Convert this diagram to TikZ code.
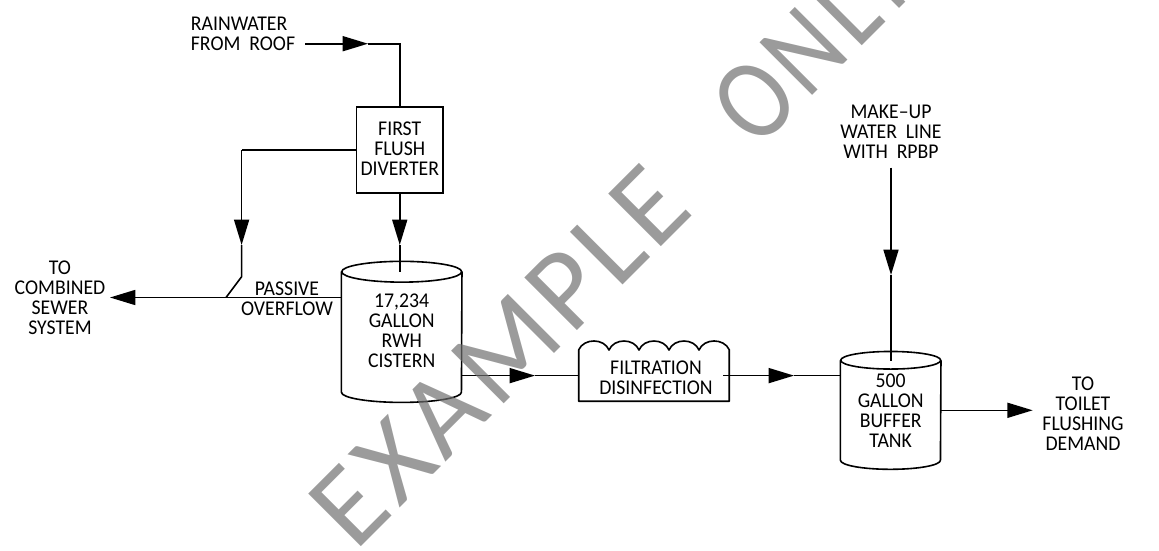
\documentclass[tikz,border=0pt]{standalone}
\usepackage{fontspec}
\setmainfont[FakeStretch=0.94]{Carlito}
\newfontfamily\wmfont[LetterSpace=4.8]{Carlito}
\newfontfamily\wmnarrow[LetterSpace=4.8,FakeStretch=0.86]{Carlito}
\usetikzlibrary{arrows.meta}
\newcommand\lines[3]{\raisebox{#2}[\height][\depth]{\hspace*{#1}\begin{tabular}{@{}c@{}}#3\end{tabular}\hspace*{-#1}}}
\tikzset{
  pipe/.style={line width=1.2pt,draw=black},
  flow/.style={-{Triangle[length=19pt,width=11.25pt]}},
  lbl/.style={inner sep=0pt,font=\fontsize{15.75pt}{15pt}\selectfont,text=black},
  boxn/.style={lbl,draw=black,line width=1.2pt},
  shapen/.style={lbl},
  wmark/.style={inner sep=0pt,anchor=base west,rotate=45,text=black!57,text opacity=.686,font=\fontsize{87pt}{87pt}\wmfont}
}
\begin{document}
\begin{tikzpicture}[x=0.75pt,y=-0.75pt]
\clip (0,0) rectangle (1159,550);
% nodes
\node[boxn,minimum width=64.9pt,minimum height=64.5pt] (diverter) at (399.75,150) {\lines{0pt}{-1.1pt}{FIRST\\FLUSH\\DIVERTER}};
\node[shapen,minimum width=90pt,minimum height=90pt] (cistern) at (401.7,332) {\lines{0pt}{-0.75pt}{17,234\\GALLON\\RWH\\CISTERN}};
\node[shapen,minimum width=112.5pt,minimum height=38.25pt] (filter) at (654,375.5) {\lines{1.5pt}{-3.9pt}{FILTRATION\\DISINFECTION}};
\node[shapen,minimum width=75pt,minimum height=74.6pt] (buffer) at (890.7,410.25) {\lines{0pt}{-2.2pt}{500\\GALLON\\BUFFER\\TANK}};
\node[lbl] (rain) at (243,36.3) {\begin{tabular}{@{}l@{}}RAINWATER\\FROM\ \ ROOF\end{tabular}};
\node[lbl] (sewer) at (60,300) {\lines{0pt}{0pt}{TO\\COMBINED\\SEWER\\SYSTEM}};
\node[lbl] (passive) at (287,301.5) {\lines{0pt}{0pt}{PASSIVE\\OVERFLOW}};
\node[lbl] (makeup) at (891,134.5) {\lines{0pt}{0pt}{MAKE–UP\\WATER\ \ LINE\\WITH\ \ RPBP}};
\node[lbl] (toilet) at (1083,416) {\lines{0pt}{0pt}{TO\\TOILET\\FLUSHING\\DEMAND}};
% coordinates
\coordinate (rainstart) at (305,43.7);
\coordinate (raintip) at (368,43.7);
\coordinate (divcorner) at (241.6,150);
\coordinate (divtip) at (241.6,245);
\coordinate (bend) at (241.6,276.7);
\coordinate (join) at (226,297.5);
\coordinate (overflow) at (341.7,297.5);
\coordinate (sewertip) at (110,297.5);
\coordinate (cisttip) at (399.75,245);
\coordinate (cistin) at (399.75,272);
\coordinate (cistout) at (461.7,375.6);
\coordinate (filtertip) at (535,375.6);
\coordinate (filterin) at (579,375.6);
\coordinate (filterout) at (723,375.6);
\coordinate (buftip) at (794,375.6);
\coordinate (bufin) at (840.7,375.6);
\coordinate (makestart) at (891,167.7);
\coordinate (maketip) at (891,275);
\coordinate (makeend) at (891,360.7);
\coordinate (bufout) at (940.7,410.3);
\coordinate (toilettip) at (1032.7,410.3);
% tanks
\draw[pipe] (cistern.north west) -- (cistern.south west) arc[start angle=180,end angle=360,x radius=45pt,y radius=7.6pt] -- (cistern.north east);
\draw[pipe] (cistern.north) ellipse[x radius=45pt,y radius=7.8pt];
\draw[pipe] (buffer.north west) -- (buffer.south west) arc[start angle=180,end angle=360,x radius=37.5pt,y radius=6.8pt] -- (buffer.north east);
\draw[pipe] (buffer.north) ellipse[x radius=37.5pt,y radius=6.6pt];
% filter
\draw[pipe,line join=round] (filter.north west) -- (filter.south west) -- (filter.south east) -- (filter.north east)
  .. controls (724,338) and (704,338) .. (699,350)
  .. controls (694,338) and (674,338) .. (669,350)
  .. controls (664,338) and (644,338) .. (639,350)
  .. controls (634,338) and (614,338) .. (609,350)
  .. controls (604,338) and (584,338) .. (filter.north west);
% connectors
\draw[pipe,flow] (rainstart) -- (raintip);
\draw[pipe] (raintip) -| (diverter.north);
\draw[pipe] (diverter.west) -- (divcorner);
\draw[pipe,flow] (divcorner) -- (divtip);
\draw[pipe,line join=round] (divtip) -- (bend) -- (join);
\draw[pipe,flow] (overflow) -- (sewertip);
\draw[pipe,flow] (diverter.south) -- (cisttip);
\draw[pipe] (cisttip) -- (cistin);
\draw[pipe,flow] (cistout) -- (filtertip);
\draw[pipe] (filtertip) -- (filterin);
\draw[pipe,flow] (filterout) -- (buftip);
\draw[pipe] (buftip) -- (bufin);
\draw[pipe,flow] (makestart) -- (maketip);
\draw[pipe] (maketip) -- (makeend);
\draw[pipe,flow] (bufout) -- (toilettip);
% watermark
\node[wmark] (watermark) at (355,553) {EXAMPLE\hspace{65pt}{\wmnarrow ONLY}};
\end{tikzpicture}
\end{document}
